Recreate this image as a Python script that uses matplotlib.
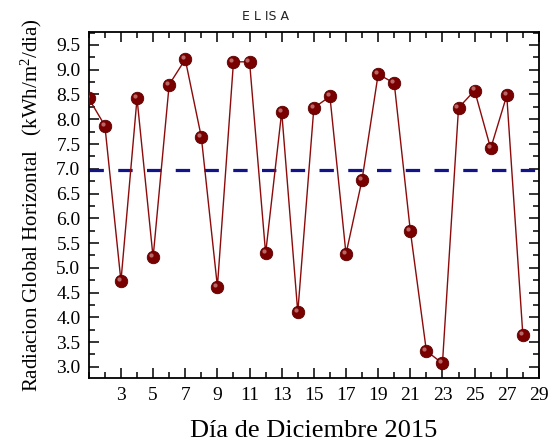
import numpy as np
import matplotlib.pyplot as plt
import matplotlib.transforms as mtransforms
from matplotlib.ticker import MultipleLocator

# daily global horizontal radiation, December 2015
days = list(range(1, 29))
radiation = [8.42, 7.87, 4.73, 8.42, 5.21, 8.70, 9.21, 7.64, 4.62, 9.16,
             9.16, 5.29, 8.15, 4.10, 8.23, 8.46, 5.28, 6.78, 8.91, 8.73,
             5.75, 3.32, 3.07, 8.23, 8.58, 7.41, 8.48, 3.65]
mean_value = np.mean(radiation)

plt.rcParams["font.family"] = ["Liberation Serif", "DejaVu Serif"]
plt.rcParams["mathtext.fontset"] = "custom"
plt.rcParams["mathtext.rm"] = "Liberation Serif"
plt.rcParams["mathtext.it"] = "Liberation Serif:italic"

fig = plt.figure(figsize=(5.55, 4.46), dpi=100)
ax = fig.add_axes([0.160, 0.152, 0.811, 0.776])

ax.axhline(mean_value, color="#14148a", linewidth=2.3, linestyle=(0, (4.5, 4.5)), zorder=2)
ax.plot(days, radiation, color="#8b0a0a", linewidth=1.0, zorder=3)
ax.plot(days, radiation, linestyle="none", marker="o", markersize=9,
        markerfacecolor="#7a0000", markeredgecolor="#5a0000", markeredgewidth=0.6, zorder=4)
# small highlight on each sphere
shift = mtransforms.ScaledTranslation(-1.5 / 72, 1.5 / 72, fig.dpi_scale_trans)
ax.plot(days, radiation, linestyle="none", marker="o", markersize=3,
        markerfacecolor="#c98080", markeredgewidth=0, alpha=0.8, zorder=5,
        transform=ax.transData + shift)

ax.set_xlim(1, 29)
ax.set_ylim(2.77, 9.76)
ax.set_xticks(np.arange(3, 30, 2))
ax.xaxis.set_minor_locator(MultipleLocator(1))
ax.set_yticks(np.arange(3.0, 9.51, 0.5))
ax.yaxis.set_minor_locator(MultipleLocator(0.25))
ax.yaxis.set_major_formatter(plt.FormatStrFormatter("%.1f"))

ax.tick_params(which="both", direction="in", top=True, right=True, width=1.1)
ax.tick_params(which="major", length=7, labelsize=14, pad=6)
ax.tick_params(which="minor", length=4)
for s in ax.spines.values():
    s.set_linewidth(1.3)

ax.set_xlabel("Día de Diciembre 2015", fontsize=19, labelpad=12)
ax.set_ylabel("Radiacion Global Horizontal   (kWh/m$^2$/dia)", fontsize=15, labelpad=9)
fig.text(0.478, 0.962, "E L IS A", fontsize=9, family="DejaVu Sans",
         color="#222222", ha="center", va="center")

fig.savefig("out.png", dpi=100)
